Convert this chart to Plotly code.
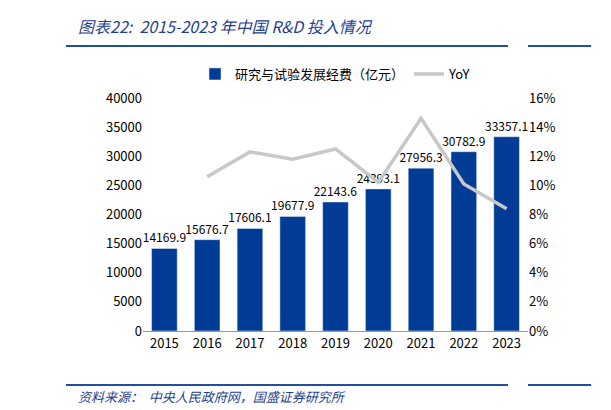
import plotly.graph_objs as go

years = ['2015', '2016', '2017', '2018', '2019', '2020', '2021', '2022', '2023']
rd_spend = [14169.9, 15676.7, 17606.1, 19677.9, 22143.6, 24393.1, 27956.3, 30782.9, 33357.1]
yoy_years = years[1:]
yoy = [10.6, 12.3, 11.8, 12.5, 10.2, 14.6, 10.1, 8.4]

BLUE = '#003c96'
FONT = 'Noto Sans CJK SC'

fig = go.Figure()
fig.add_trace(go.Bar(x=years, y=rd_spend, name='研究与试验发展经费（亿元）',
                     marker_color=BLUE, width=0.6,
                     text=[f'{v:.1f}' for v in rd_spend], textposition='outside',
                     constraintext='none',
                     textfont=dict(size=12, color='#000'), cliponaxis=False))
fig.add_trace(go.Scatter(x=yoy_years, y=yoy, name='YoY', yaxis='y2', mode='lines',
                         line=dict(color='#c8c8c8', width=3.5)))

fig.update_layout(
    width=611, height=410, plot_bgcolor='white', paper_bgcolor='white',
    font=dict(family=FONT, size=12, color='#000'),
    margin=dict(l=135, r=91, t=90, b=87, autoexpand=False),
    showlegend=True,
    legend=dict(orientation='h', x=0.5, xanchor='center', y=1.103, yanchor='middle',
                font=dict(size=13), traceorder='normal'),
    xaxis=dict(showline=True, linecolor='#999', ticks='', tickfont=dict(size=13)),
    yaxis=dict(range=[0, 40000], dtick=5000, tickformat='d', showgrid=False, showline=False,
               tickfont=dict(size=13), zeroline=False),
    yaxis2=dict(range=[0, 16], dtick=2, overlaying='y', side='right', showgrid=False,
                ticksuffix='%', tickfont=dict(size=13)),
    bargap=0.4,
    annotations=[
        dict(text='<i>图表22:  2015-2023 年中国 R&D 投入情况</i>', xref='paper', yref='paper',
             x=-0.174, y=1.309, xanchor='left', yanchor='middle', showarrow=False,
             font=dict(size=16, color='#1f3f8f')),
        dict(text='<i>资料来源：  中央人民政府网，国盛证券研究所</i>', xref='paper', yref='paper',
             x=-0.174, y=-0.279, xanchor='left', yanchor='middle', showarrow=False,
             font=dict(size=13, color='#1f3f8f')),
    ],
    shapes=[
        dict(type='line', xref='paper', yref='paper', x0=-0.2, x1=0.948, y0=1.223, y1=1.223,
             line=dict(color='#1f4fa0', width=2)),
        dict(type='line', xref='paper', yref='paper', x0=1.0, x1=1.164, y0=1.223, y1=1.223,
             line=dict(color='#1f4fa0', width=2)),
        dict(type='line', xref='paper', yref='paper', x0=-0.2, x1=0.948, y0=-0.232, y1=-0.232,
             line=dict(color='#1f4fa0', width=2)),
        dict(type='line', xref='paper', yref='paper', x0=1.0, x1=1.164, y0=-0.232, y1=-0.232,
             line=dict(color='#1f4fa0', width=2)),
    ],
)

fig.write_html('out.html')
